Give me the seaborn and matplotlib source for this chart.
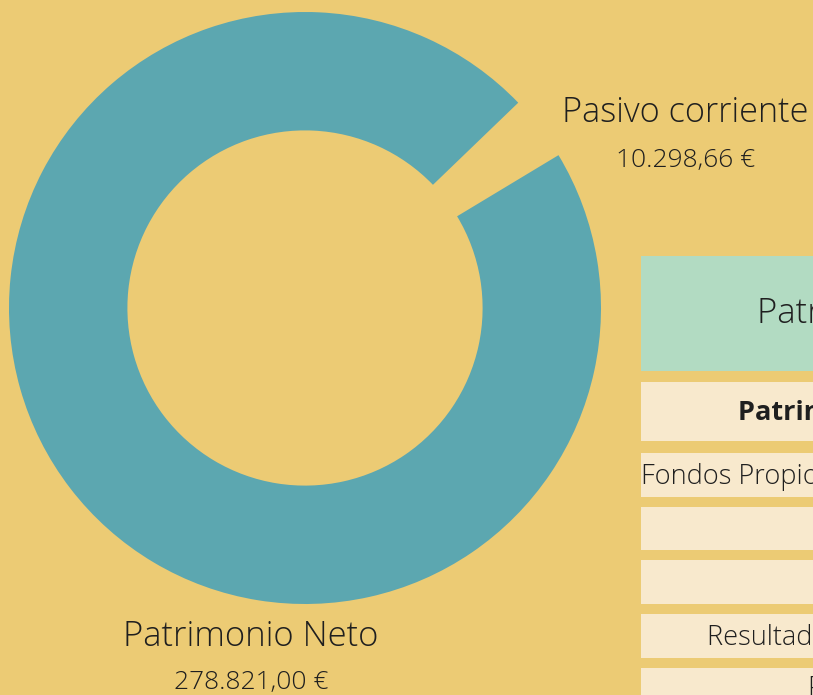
import matplotlib
matplotlib.use("Agg")
import matplotlib.pyplot as plt
import seaborn as sns
from matplotlib.patches import Rectangle

# ---- data ----
categories = ["Pasivo corriente", "Patrimonio Neto"]
values = [10298.66, 278821.00]
slice_colors = ["#ECCB74", "#5CA7B0"]

table_title = "Patrimonio Neto y Pasivo"
table_rows = ["Patrimonio Neto", "Fondos Propios", "", "", "Resultado del ejercicio", "Pasivo corriente"]
table_bold = [True, False, False, False, False, False]


def eur(v):
    s = f"{v:,.2f}".replace(",", "X").replace(".", ",").replace("X", ".")
    return s + " €"


BG = "#ECCB74"
sns.set_theme(style="white", rc={"figure.facecolor": BG, "axes.facecolor": BG})
plt.rcParams["font.family"] = ["Open Sans", "DejaVu Sans"]

W, H = 813, 695
fig = plt.figure(figsize=(W / 100, H / 100), dpi=100)
fig.patch.set_facecolor(BG)

# donut axes (pixel geometry)
cx, cy, R = 305, 308, 296
ax = fig.add_axes([(cx - R) / W, (H - cy - R) / H, 2 * R / W, 2 * R / H])
ax.set_facecolor(BG)
frac = values[0] / sum(values)
start = 37.5 - frac * 360 / 2
ax.pie(values, colors=slice_colors, startangle=start, counterclock=True, radius=1,
       wedgeprops=dict(width=0.4, edgecolor="none"))
ax.set_xlim(-1, 1)
ax.set_ylim(-1, 1)
ax.set_aspect("equal")
ax.axis("off")

tc = "#1f1f1f"


def ftext(x, y, s, **kw):
    fig.text(x / W, 1 - y / H, s, color=tc, va="center", **kw)


# slice labels
ftext(685, 113, categories[0], ha="center", fontsize=24.7, fontweight="light")
ftext(686, 161, eur(values[0]), ha="center", fontsize=19, fontweight="light")
ftext(251, 637, categories[1], ha="center", fontsize=24.9, fontweight="light")
ftext(251, 683, eur(values[1]), ha="center", fontsize=19, fontweight="light")

# table
def box(y0, y1, color, x0=641, x1=900):
    fig.patches.append(Rectangle((x0 / W, 1 - y1 / H), (x1 - x0) / W, (y1 - y0) / H,
                                 transform=fig.transFigure, facecolor=color,
                                 edgecolor="none", zorder=0))


box(256, 371, "#B2DBC2")
ftext(757, 314, table_title, ha="left", fontsize=25, fontweight="light")

row_spans = [(382, 441), (453, 497), (507, 550), (560, 604), (614, 658), (668, 720)]
row_x = [738, 641, 700, 700, 707, 808]
for (y0, y1), txt, bold, x in zip(row_spans, table_rows, table_bold, row_x):
    box(y0, y1, "#F8E9CD")
    if txt:
        ftext(x, (y0 + y1) / 2 + 2 if y1 < 700 else 689, txt, ha="left", fontsize=19.5,
              fontweight="bold" if bold else "light")

fig.savefig("out.png", dpi=100, facecolor=BG)
